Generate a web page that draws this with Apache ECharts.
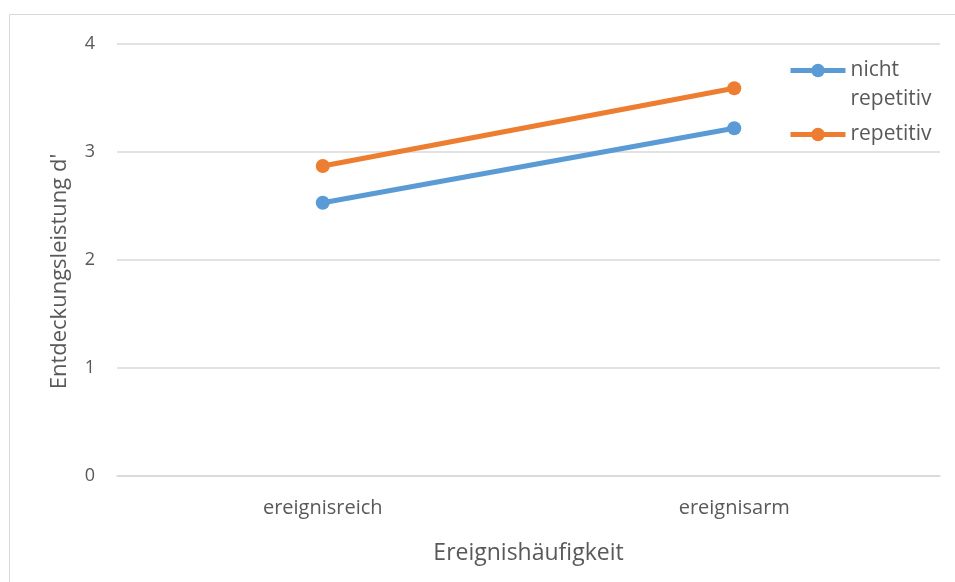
<!DOCTYPE html>
<html>
<head>
<meta charset="utf-8">
<script src="https://cdn.jsdelivr.net/npm/echarts@6/dist/echarts.min.js"></script>
<style>
  html, body { margin: 0; padding: 0; background: #fff; }
  #chart { width: 955px; height: 582px; }
</style>
</head>
<body>
<div id="chart"></div>
<script>
// Ereignishäufigkeit x Repetitivität
var categories = ['ereignisreich', 'ereignisarm']
var nichtRepetitiv = [2.53, 3.22]
var repetitiv = [2.87, 3.59]
var yTicks = [0, 1, 2, 3, 4]

var font = 'Open Sans'
var textColor = '#595959'

var chart = echarts.init(document.getElementById('chart'))

// one legend per series, so the wrapped label keeps its icon on the first line
function legendFor(name, top, label) {
  return {
    left: 788,
    top: top,
    padding: 0,
    itemWidth: 55,
    itemHeight: 17,
    lineStyle: { width: 5 },
    data: [name],
    formatter: function () {
      return label
    },
    textStyle: {
      fontFamily: font,
      fontSize: 21,
      color: textColor,
      lineHeight: 29
    }
  }
}

chart.setOption({
  animation: false,
  textStyle: { fontFamily: font },
  graphic: [{
    type: 'rect',
    shape: { x: 9.5, y: 14.5, width: 960, height: 600 },
    style: { fill: 'none', stroke: '#d9d9d9', lineWidth: 1 },
    silent: true
  }],
  grid: { left: 117, right: 15, top: 44, bottom: 106 },
  legend: [
    legendFor('nicht repetitiv', 27, ' \nnicht\nrepetitiv'),
    legendFor('repetitiv', 120, 'repetitiv')
  ],
  xAxis: {
    type: 'category',
    data: categories,
    boundaryGap: true,
    name: 'Ereignishäufigkeit',
    nameLocation: 'middle',
    nameGap: 66,
    nameTextStyle: { fontFamily: font, fontSize: 23, color: textColor },
    axisLine: { lineStyle: { color: '#d9d9d9', width: 1.5 } },
    axisTick: { show: false },
    axisLabel: { fontFamily: font, fontSize: 20, color: textColor, margin: 22 }
  },
  yAxis: {
    type: 'value',
    min: yTicks[0],
    max: yTicks[yTicks.length - 1],
    interval: 1,
    name: "Entdeckungsleistung d'",
    nameLocation: 'middle',
    nameGap: 46,
    nameTextStyle: { fontFamily: font, fontSize: 22, color: textColor, padding: [0, 23, 0, 0] },
    axisLine: { show: false },
    axisTick: { show: false },
    splitLine: { lineStyle: { color: '#d9d9d9', width: 1.5 } },
    axisLabel: { fontFamily: font, fontSize: 18, color: textColor, margin: 22 }
  },
  series: [{
    name: 'nicht repetitiv',
    type: 'line',
    data: nichtRepetitiv,
    symbol: 'circle',
    symbolSize: 14,
    itemStyle: { color: '#5B9BD5' },
    lineStyle: { color: '#5B9BD5', width: 5 }
  }, {
    name: 'repetitiv',
    type: 'line',
    data: repetitiv,
    symbol: 'circle',
    symbolSize: 14,
    itemStyle: { color: '#ED7D31' },
    lineStyle: { color: '#ED7D31', width: 5 }
  }]
})
</script>
</body>
</html>
